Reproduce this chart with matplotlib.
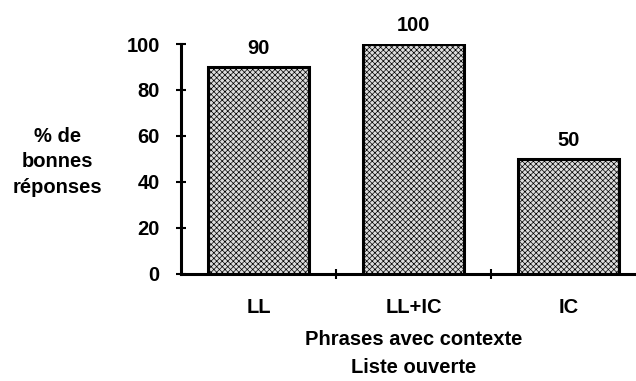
import numpy as np
import matplotlib.pyplot as plt

categories = ["LL", "LL+IC", "IC"]
values = [90, 100, 50]
y_ticks = [0, 20, 40, 60, 80, 100]

plt.rcParams['font.family'] = ['Liberation Sans', 'DejaVu Sans']
plt.rcParams['font.weight'] = 'bold'
plt.rcParams['hatch.linewidth'] = 0.5
plt.rcParams['hatch.color'] = '#5a5a5a'

fs = 14.5

fig = plt.figure(figsize=(6.36, 3.81), dpi=100)
ax = fig.add_axes([0.285, 0.281, 0.715, 0.6035])

x = np.arange(len(categories))
ax.bar(x, values, width=0.65, color='#dcdcdc', edgecolor='black',
       linewidth=2.2, hatch='xxxxxx', zorder=3)

for xi, v in zip(x, values):
    ax.text(xi, v + 8, str(v), ha='center', va='center', fontsize=fs)

ax.set_xlim(-0.5, 2.435)
ax.set_ylim(0, 100)
ax.set_yticks(y_ticks)
ax.set_yticklabels([str(t) for t in y_ticks], fontsize=fs)
ax.set_xticks([0.5, 1.5])
ax.set_xticklabels(['', ''])
ax.tick_params(axis='y', direction='inout', length=7, width=1.5, pad=12)
ax.tick_params(axis='x', direction='inout', length=7, width=1.5)

for xi, c in zip(x, categories):
    ax.text(xi, -14.8, c, ha='center', va='center', fontsize=fs)

ax.spines['top'].set_visible(False)
ax.spines['right'].set_visible(False)
ax.spines['left'].set_linewidth(2.2)
ax.spines['bottom'].set_linewidth(2.2)

ax.text(1.0, -28.7, 'Phrases avec contexte', ha='center', va='center', fontsize=fs)
ax.text(1.0, -40.9, 'Liste ouverte', ha='center', va='center', fontsize=fs)

fig.text(0.090, 0.575, '% de\nbonnes\nréponses', ha='center', va='center',
         fontsize=fs, linespacing=1.45)

fig.savefig('out.png', dpi=100)
